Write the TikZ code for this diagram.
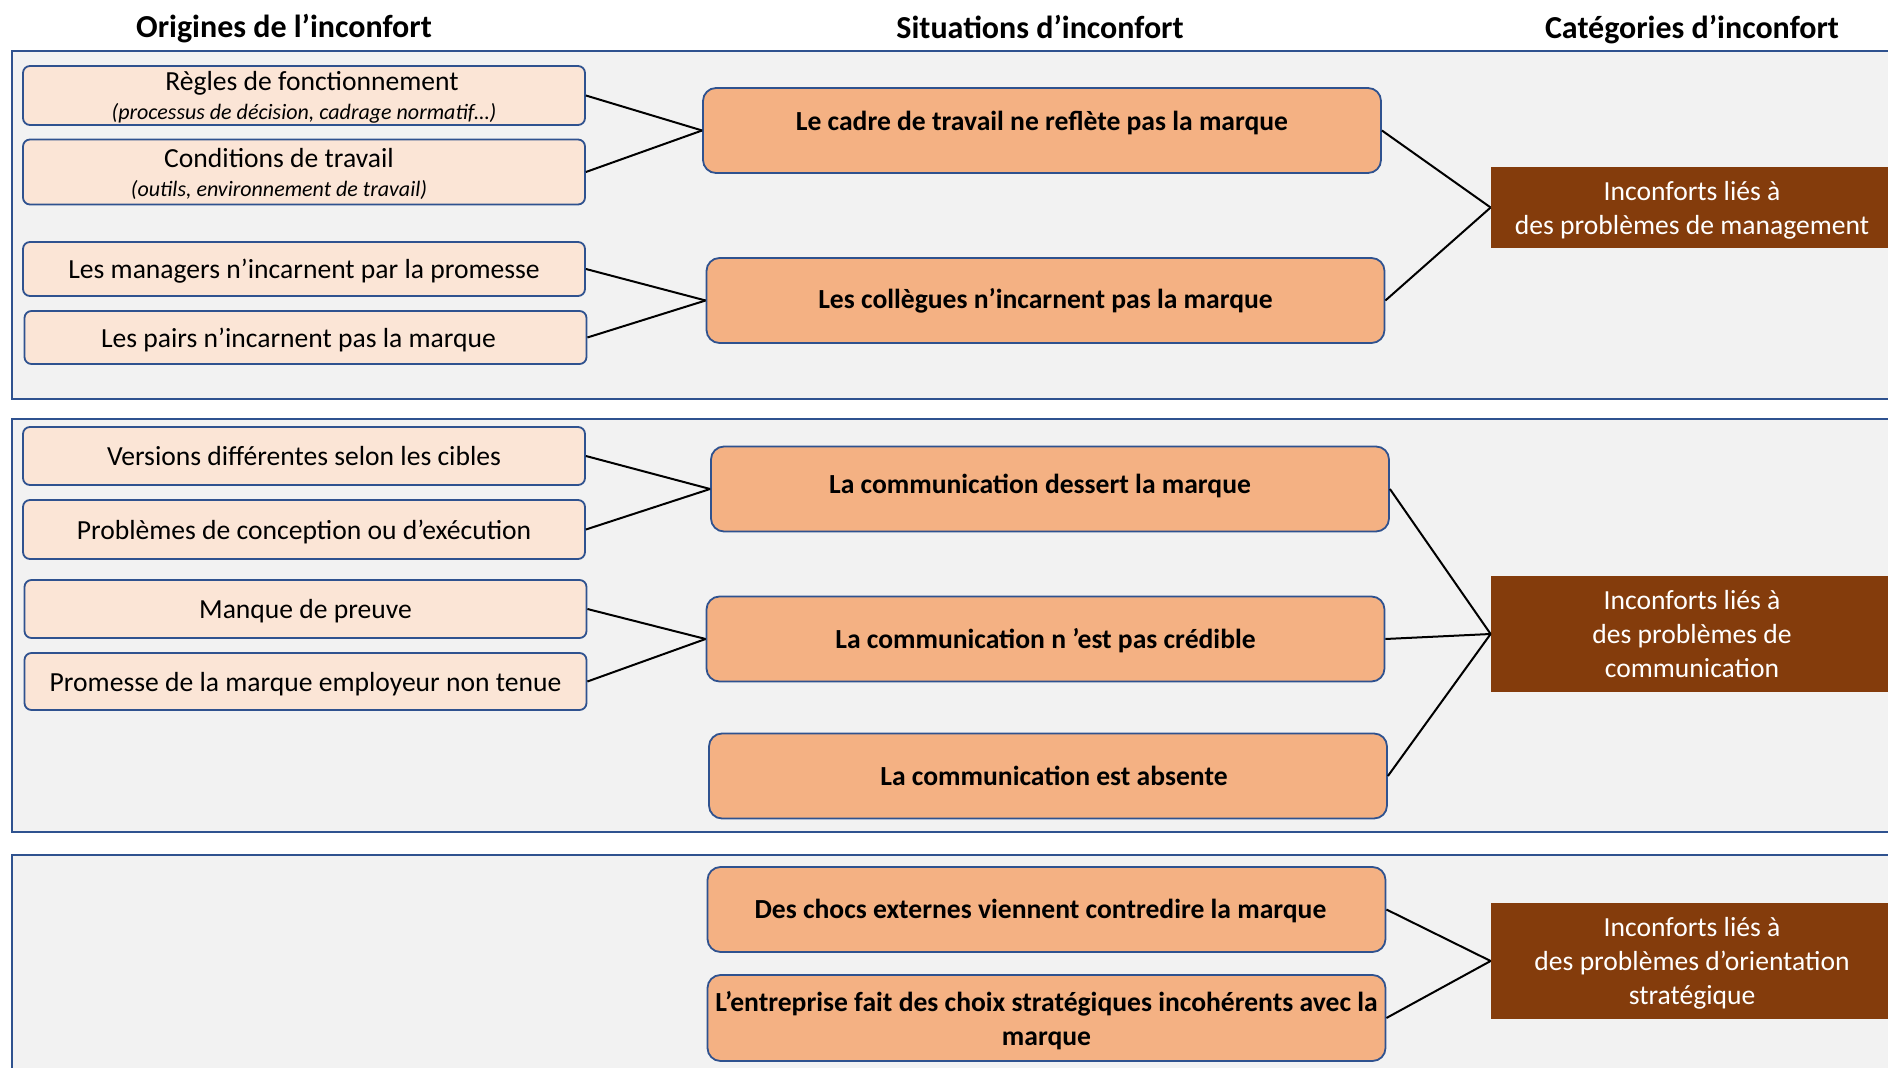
\documentclass[tikz,border=0pt]{standalone}
\usepackage{fontspec}
\setmainfont{Carlito}
\definecolor{cadre}{HTML}{2F528F}
\definecolor{fond}{HTML}{F2F2F2}
\definecolor{peche}{HTML}{FBE5D6}
\definecolor{saumon}{HTML}{F4B183}
\definecolor{brun}{HTML}{843C0C}
\newcommand{\precisiontext}{\fontsize{11}{14.5}\selectfont\itshape}
\begin{document}
\begin{tikzpicture}[x=0.5pt,y=-0.5pt,
    panel/.style={draw=cadre,line width=1.2pt,fill=fond},
    titre/.style={font=\fontsize{16}{19}\selectfont\bfseries},
    origine/.style={draw=cadre,line width=0.9pt,fill=peche,rounded corners=3.5pt,minimum width=281pt,inner ysep=0pt,text depth=0pt,align=center,font=\fontsize{13.8}{14.5}\selectfont},
    situation/.style={draw=cadre,line width=0.9pt,fill=saumon,rounded corners=6.5pt,minimum width=339pt,minimum height=42.5pt,inner ysep=0pt,align=center,font=\fontsize{13.8}{17}\selectfont\bfseries},
    categorie/.style={fill=brun,text=white,minimum width=201pt,text depth=0pt,align=center,font=\fontsize{13.8}{17}\selectfont},
    lien/.style={line width=1pt}]
  \useasboundingbox (0,0) rectangle (1888,1068);
  \clip (0,0) rectangle (1888,1068);
  \fill[white] (0,0) rectangle (1888,1068);

  \draw[panel] (12,51) rectangle (1910,399);
  \draw[panel] (12,419) rectangle (1910,832);
  \draw[panel] (12,855) rectangle (1910,1090);

  \node[titre] (t1) at (284,29) {Origines de l’inconfort};
  \node[titre] (t2) at (1040,27) {Situations d’inconfort};
  \node[titre] (t3) at (1692,30) {Catégories d’inconfort};

  \begin{scope}[every node/.style={origine}]
    \node[minimum height=29.5pt] (regles) at (304,95.5) {\hspace*{8pt}Règles de fonctionnement\\{\precisiontext (processus de décision, cadrage normatif…)}};
    \node[minimum height=32.5pt] (conditions) at (304,172) {Conditions de travail\hspace*{25pt}\\{\precisiontext (outils, environnement de travail)\hspace*{25pt}}};
    \node[minimum height=27pt] (managers) at (304,269) {Les managers n’incarnent par la promesse};
    \node[minimum height=26.5pt] (pairs) at (305.5,337.5) {Les pairs n’incarnent pas la marque\hspace*{7pt}};
    \node[minimum height=29pt] (versions) at (304,456) {Versions différentes selon les cibles};
    \node[minimum height=29.5pt] (conception) at (304,529.5) {Problèmes de conception ou d’exécution};
    \node[minimum height=29pt] (preuve) at (305.5,609) {Manque de preuve};
    \node[minimum height=28.5pt] (promesse) at (305.5,681.5) {Promesse de la marque employeur non tenue};
  \end{scope}

  \begin{scope}[every node/.style={situation}]
    \node[text depth=10pt] (cadretravail) at (1042,130.5) {Le cadre de travail ne reflète pas la marque};
    \node (collegues) at (1045.5,300.5) {Les collègues n’incarnent pas la marque};
    \node[text depth=5.5pt] (dessert) at (1050,489) {La communication dessert la marque\hspace*{10pt}};
    \node[text depth=1pt] (credible) at (1045.5,639) {La communication n ’est pas crédible};
    \node (absente) at (1048,776) {\hspace*{6pt}La communication est absente};
    \node[text depth=1pt] (chocs) at (1046.5,909.5) {Des chocs externes viennent contredire la marque\hspace*{6pt}};
    \node[minimum height=43pt,text depth=0pt] (choix) at (1046.5,1018) {L’entreprise fait des choix stratégiques incohérents avec la\\marque};
  \end{scope}

  \begin{scope}[every node/.style={categorie}]
    \node[minimum height=40.5pt] (management) at (1692,207.5) {Inconforts liés à\\des problèmes de management};
    \node[minimum height=57.5pt] (communication) at (1692,634) {Inconforts liés à\\des problèmes de\\communication};
    \node[minimum height=58pt] (strategie) at (1692,961) {Inconforts liés à\\des problèmes d’orientation\\stratégique};
  \end{scope}

  \foreach \a/\b in {regles/cadretravail,conditions/cadretravail,managers/collegues,pairs/collegues,
      versions/dessert,conception/dessert,preuve/credible,promesse/credible,
      cadretravail/management,collegues/management,dessert/communication,credible/communication,
      absente/communication,chocs/strategie,choix/strategie}
    \draw[lien] (\a.east) -- (\b.west);
\end{tikzpicture}
\end{document}
